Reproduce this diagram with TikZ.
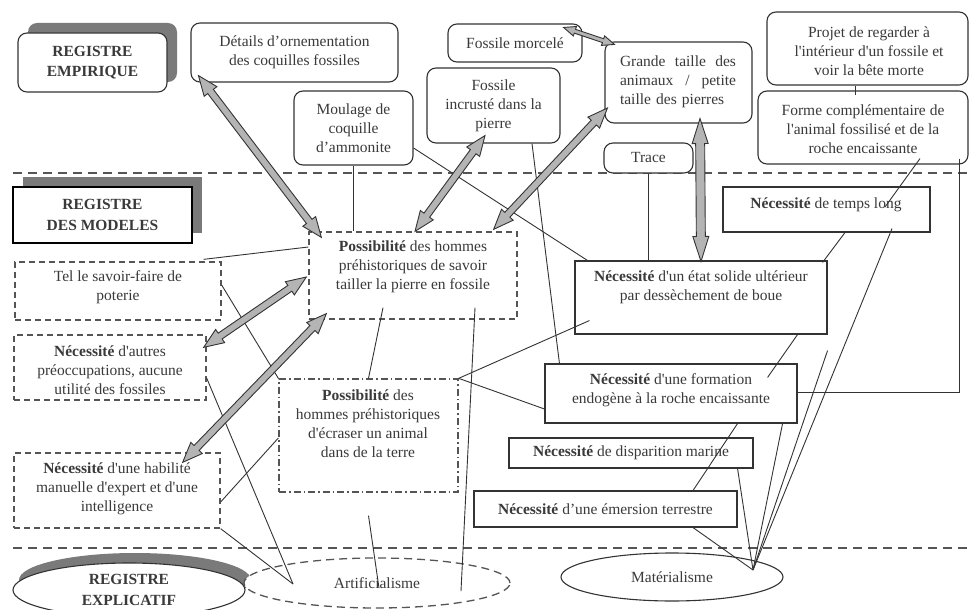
\documentclass[tikz,border=0pt]{standalone}
\usepackage{fontspec}
\setmainfont{Liberation Serif}
\usetikzlibrary{calc,shapes.geometric}
\definecolor{linec}{HTML}{333333}
\definecolor{textc}{HTML}{3A3A3A}
\definecolor{dashc}{HTML}{555555}
\definecolor{shadc}{HTML}{7A7A7A}
\definecolor{arrf}{HTML}{B4B4B4}
\tikzset{
 every node/.style={font=\fontsize{15.5}{19}\selectfont, text=textc, inner sep=0pt, align=center},
 bld/.style={font=\fontsize{15.5}{20.5}\selectfont\bfseries},
 rbox/.style={draw=linec, line width=1.1pt, rounded corners=9pt, fill=white},
 sbox/.style={draw=linec, line width=1.1pt, fill=white},
 dbox/.style={draw=dashc, line width=1.3pt, dash pattern=on 6pt off 4pt, fill=white},
 ddbox/.style={draw=dashc, line width=1.3pt, dash pattern=on 7pt off 3pt on 1.5pt off 3pt, fill=white},
 conn/.style={draw=linec, line width=0.9pt},
 sepline/.style={draw=dashc, line width=1.4pt, dash pattern=on 9pt off 6pt},
 fat/.style={draw=linec, line width=0.9pt, fill=arrf, line join=miter},
}
\newcommand\fatarr[5]{%
 \coordinate (faA) at (#1); \coordinate (faB) at (#2);
 \coordinate (faP) at ($(faA)!#3!(faB)$);
 \coordinate (faQ) at ($(faB)!#3!(faA)$);
 \draw[fat] (faA) -- ($(faP)!#4!90:(faB)$) -- ($(faP)!#5!90:(faB)$) -- ($(faQ)!#5!-90:(faA)$) -- ($(faQ)!#4!-90:(faA)$) -- (faB) -- ($(faQ)!#4!90:(faA)$) -- ($(faQ)!#5!90:(faA)$) -- ($(faP)!#5!-90:(faB)$) -- ($(faP)!#4!-90:(faB)$) -- cycle;}
\begin{document}
\begin{tikzpicture}[x=1pt,y=-1pt]
\useasboundingbox (0,0) rectangle (972,610);
\fill[white] (0,0) rectangle (972,610);
% shadows
\node[fill=shadc, rounded corners=9pt, minimum width=149pt, minimum height=59pt] (regempS) at (102.5,52.5) {};
\node[fill=shadc, minimum width=179pt, minimum height=56pt] (regmodS) at (112.5,205) {};
\node[fill=shadc, ellipse, minimum width=232pt, minimum height=54pt] (regexpS) at (135,580) {};
% separators
\coordinate (sepA1) at (13,173); \coordinate (sepA2) at (972,173);
\coordinate (sepB1) at (13,548); \coordinate (sepB2) at (972,548);
\draw[sepline] (sepA1) -- (sepA2);
\draw[sepline] (sepB1) -- (sepB2);
% empirical register
\node[rbox, bld, minimum width=149pt, minimum height=59pt] (regemp) at (92.5,62.5) {REGISTRE\\EMPIRIQUE};
\node[rbox, minimum width=207pt, minimum height=59pt] (details) at (294.5,52.5) {Détails d’ornementation\\des coquilles fossiles};
\node[rbox, minimum width=119pt, minimum height=74pt] (moulage) at (353.5,128) {Moulage de\\coquille\\d’ammonite};
\node[rbox, minimum width=134pt, minimum height=38pt] (morcele) at (515,43) {Fossile morcelé};
\node[rbox, minimum width=133pt, minimum height=75pt] (incruste) at (493.5,105.5) {Fossile\\incrusté dans la\\pierre};
\node[rbox, minimum width=147pt, minimum height=81pt] (grande) at (678.5,82.5) {};
\node[text width=116pt, align=left] (grandeT) at (678,82) {Grande\hfill taille\hfill des\\animaux\hfill /\hfill petite\\taille des pierres};
\node[rbox, minimum width=89pt, minimum height=30pt] (trace) at (648.5,158) {Trace};
\node[rbox, minimum width=201pt, minimum height=73pt] (projet) at (867.5,48.5) {};
\node (projetT) at (869,51) {Projet de regarder à\\l\textquotesingle intérieur d\textquotesingle un fossile et\\voir la bête morte};
\node[rbox, minimum width=210pt, minimum height=73pt] (forme) at (863,127.5) {};
\node (formeT) at (863,129) {Forme complémentaire de\\l\textquotesingle animal fossilisé et de la\\roche encaissante};
% model register
\node[sbox, draw=black, line width=2.2pt, bld, minimum width=179pt, minimum height=56pt] (regmod) at (102.5,215) {REGISTRE\\DES MODELES};
\node[dbox, minimum width=208pt, minimum height=87pt] (poss1) at (413,275.5) {};
\node (poss1T) at (413,267) {\textbf{Possibilité} des hommes\\préhistoriques de savoir\\tailler la pierre en fossile};
\node[dbox, minimum width=206pt, minimum height=58pt] (tel) at (118,291) {};
\node (telT) at (118,287) {Tel le savoir-faire de\\poterie};
\node[dbox, minimum width=192pt, minimum height=65pt] (autres) at (110,367.5) {};
\node (autresT) at (110,370) {\textbf{Nécessité} d\textquotesingle autres\\préoccupations, aucune\\utilité des fossiles};
\node[dbox, minimum width=206pt, minimum height=75pt] (habil) at (117,490.5) {};
\node (habilT) at (117,489) {\textbf{Nécessité} d\textquotesingle une habilité\\manuelle d\textquotesingle expert et d\textquotesingle une\\intelligence};
\node[ddbox, minimum width=179pt, minimum height=113pt] (ecraser) at (368.5,435.5) {};
\node (ecraserT) at (368,424) {\textbf{Possibilité} des\\hommes préhistoriques\\d\textquotesingle écraser un animal\\dans de la terre};
\node[sbox, minimum width=207pt, minimum height=45pt] (tempslong) at (826.5,209.5) {};
\node (tempslongT) at (826,205) {\textbf{Nécessité} de temps long};
\node[sbox, minimum width=252pt, minimum height=73pt] (etat) at (701,297.5) {};
\node (etatT) at (701,287) {\textbf{Nécessité} d\textquotesingle un état solide ultérieur\\par dessèchement de boue};
\node[sbox, minimum width=252pt, minimum height=59pt] (formation) at (671,393.5) {};
\node (formationT) at (671,390) {\textbf{Nécessité} d\textquotesingle une formation\\endogène à la roche encaissante};
\node[sbox, minimum width=244pt, minimum height=30pt] (disparition) at (631,453) {\textbf{Nécessité} de disparition marine};
\node[sbox, minimum width=263pt, minimum height=36pt] (emersion) at (605.5,509) {\textbf{Nécessité} d’une émersion terrestre};
% explicative register
\node[ellipse, draw=linec, line width=1.1pt, fill=white, bld, font=\fontsize{15.5}{21.5}\selectfont\bfseries, minimum width=232pt, minimum height=54pt] (regexp) at (129,590) {REGISTRE\\EXPLICATIF};
\node[ellipse, draw=dashc, line width=1.3pt, dash pattern=on 8pt off 5pt, fill=white, minimum width=266pt, minimum height=50pt] (artif) at (377,583) {Artificialisme};
\node[ellipse, draw=linec, line width=1.1pt, fill=white, minimum width=222pt, minimum height=48pt] (mater) at (672,577) {Matérialisme};
\coordinate (cA) at (293,584);
\coordinate (cM) at (753,570);
% connectors
\draw[conn] (moulage.south) -- (moulage.south |- poss1.north);
\draw[conn] ([yshift=-20pt]moulage.east) -- ([xshift=13pt]etat.north west);
\draw[conn] ([xshift=38.5pt]incruste.south) -- ([xshift=15pt]formation.north west);
\draw[conn] (trace.south) -- (trace.south |- etat.north);
\draw[conn] ([xshift=-12.5pt]projet.south) -- ([xshift=-12.5pt,yshift=-5pt]projet.south |- forme.north);
\draw[conn] ([xshift=57pt,yshift=6pt]forme.south) -- ([xshift=58.5pt,yshift=2.5pt]tempslong.center);
\draw[conn] ([xshift=96pt,yshift=6pt]forme.south) |- ([yshift=1.5pt]formation.east);
\draw[conn] ([xshift=18.5pt]tempslong.south) -- ([xshift=-5pt,yshift=-2pt]etat.north east);
\draw[conn] ([xshift=65.5pt,yshift=4pt]tempslong.south) -- (cM);
\draw[conn] ([yshift=-16pt]etat.south east) -- (cM);
\draw[conn] ([xshift=-30pt]etat.south east) -- ([xshift=-30pt,yshift=-14pt]formation.north east);
\draw[conn] ([xshift=-15pt]formation.south east) -- (cM);
\draw[conn] ([xshift=-60pt]formation.south east) -- ([xshift=87.5pt]emersion.north);
\draw[conn] ([xshift=-16pt]disparition.south east) -- (cM);
\draw[conn] ([xshift=87.5pt]emersion.south) -- (cM);
\draw[conn] (ecraser.north east) -- ([xshift=15pt,yshift=14pt]etat.south west);
\draw[conn] (ecraser.north east) -- ([yshift=-15.5pt]formation.west);
\draw[conn] ([xshift=-30pt,yshift=12pt]poss1.south) -- (ecraser.north);
\draw[conn] ([xshift=62pt,yshift=12pt]poss1.south) -- ([xshift=84pt,yshift=-8pt]artif.center);
\draw[conn] ([yshift=28.5pt]poss1.west) -- ([xshift=-18pt,yshift=2pt]tel.north east);
\draw[conn] ([yshift=6pt]tel.east) -- (ecraser.north west);
\draw[conn] ([yshift=-10.5pt]autres.east) -- (cA);
\draw[conn] (habil.south east) -- (cA);
\draw[conn] ([yshift=-2.5pt]ecraser.west) -- ([yshift=-11.5pt]habil.east);
\draw[conn] ([yshift=-23pt]ecraser.south) -- ([xshift=2pt,yshift=-5pt]artif.center);
% fat double arrows
\fatarr{[xshift=8pt,yshift=7pt]details.south west}{[xshift=13pt,yshift=-6pt]poss1.north west}{20pt}{8pt}{3.5pt}
\fatarr{[xshift=-8.5pt,yshift=8pt]incruste.south}{[xshift=2pt]poss1.north}{20pt}{8pt}{3.5pt}
\fatarr{[xshift=3pt,yshift=-25.5pt]grande.west}{[xshift=-24pt,yshift=2pt]poss1.north east}{20pt}{8pt}{3.5pt}
\fatarr{[xshift=-19pt,yshift=-4pt]morcele.north east}{[xshift=10pt,yshift=-3pt]grande.north west}{12pt}{5pt}{2pt}
\fatarr{[xshift=-3pt,yshift=-13pt]autres.north east}{[xshift=-2pt,yshift=-1.5pt]poss1.west}{20pt}{8pt}{3.5pt}
\fatarr{[xshift=-38pt,yshift=-10pt]habil.north east}{[xshift=18pt,yshift=6pt]poss1.south west}{20pt}{8pt}{3.5pt}
\fatarr{[xshift=21.5pt,yshift=5pt]grande.south}{[yshift=-1pt]etat.north}{25pt}{8pt}{4.5pt}
\end{tikzpicture}
\end{document}
